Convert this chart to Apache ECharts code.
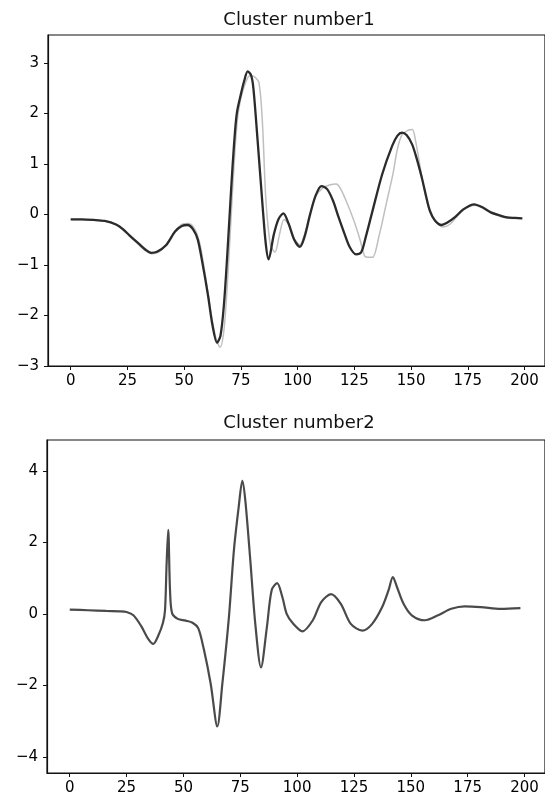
<!DOCTYPE html>
<html>
<head>
<meta charset="utf-8">
<script src="https://cdn.jsdelivr.net/npm/echarts@6/dist/echarts.min.js"></script>
<style>html,body{margin:0;padding:0;background:#fff}#c{width:545px;height:799px}</style>
</head>
<body>
<div id="c"></div>
<script>
// ---------- data ----------
const title1 = "Cluster number1";
const title2 = "Cluster number2";
const xTicks = [0, 25, 50, 75, 100, 125, 150, 175, 200];
const yTicks1 = [-3, -2, -1, 0, 1, 2, 3];
const yTicks2 = [-4, -2, 0, 2, 4];

// Cluster 1: dominant (dark) member
const c1Main = [[0,-0.1],[5,-0.1],[10,-0.11],[15,-0.13],[20,-0.2],[23,-0.29],[26,-0.42],[30,-0.58],[33,-0.7],[35.5,-0.76],[38,-0.74],[42,-0.61],[46,-0.34],[49,-0.23],[51.5,-0.21],[54,-0.3],[56,-0.5],[58,-0.95],[60.5,-1.6],[62.5,-2.2],[64.5,-2.54],[66,-2.4],[67.5,-1.8],[69,-0.8],[70.7,0.5],[72,1.4],[73.2,2.0],[75,2.38],[76.5,2.65],[78,2.83],[79.5,2.75],[80.5,2.5],[82.3,1.5],[84.5,0.2],[86,-0.6],[87.2,-0.89],[89.5,-0.4],[91.5,-0.1],[93.7,0.02],[96,-0.18],[98.5,-0.5],[101,-0.64],[103,-0.45],[105.5,0],[108,0.38],[110.5,0.56],[113,0.5],[115.6,0.27],[118,-0.05],[120.7,-0.39],[123,-0.65],[125.7,-0.79],[128,-0.75],[130,-0.45],[133,0.07],[137.3,0.8],[141.7,1.36],[144,1.56],[146,1.62],[148,1.57],[150.4,1.39],[152.5,1.1],[154.7,0.73],[156.5,0.38],[158.3,0.07],[160.5,-0.12],[163.4,-0.21],[166,-0.16],[169.2,-0.06],[173,0.1],[177.8,0.2],[181,0.15],[185.1,0.04],[189,-0.02],[192.3,-0.06],[196,-0.07],[199,-0.08]];
// Cluster 1: lighter member
const c1Other = [[0,-0.1],[15,-0.13],[20,-0.2],[26,-0.43],[30,-0.6],[33,-0.72],[36,-0.78],[39,-0.74],[42,-0.6],[46,-0.33],[49,-0.2],[52,-0.18],[55,-0.32],[57,-0.6],[59.5,-1.25],[62,-2.0],[64,-2.45],[65.8,-2.63],[67.5,-2.3],[69,-1.4],[70.5,-0.2],[72,1.0],[73.5,1.9],[75,2.3],[77,2.6],[79,2.75],[81,2.72],[83,2.6],[84.5,1.8],[86,0.3],[88,-0.6],[90,-0.75],[92,-0.4],[94,-0.1],[96,-0.2],[98.5,-0.48],[101,-0.6],[103,-0.4],[105.5,0.02],[108,0.36],[111,0.52],[114,0.58],[117,0.6],[119,0.5],[122,0.2],[125,-0.15],[127.5,-0.5],[129.5,-0.82],[131,-0.85],[133,-0.85],[136,-0.4],[139,0.2],[142,0.8],[144,1.3],[146,1.58],[148.5,1.66],[150.5,1.68],[152,1.45],[154.5,0.8],[156.5,0.35],[158.5,0.02],[161,-0.15],[164,-0.25],[167,-0.2],[170,-0.05],[174,0.12],[178,0.18],[182,0.12],[186,0.02],[190,-0.05],[195,-0.08],[199,-0.08]];

// Cluster 2
const c2Main = [[0,0.12],[8,0.1],[16,0.08],[22,0.07],[25,0.05],[28,-0.04],[31.5,-0.35],[34.5,-0.7],[36.7,-0.84],[39,-0.6],[41,-0.25],[41.9,0.1],[42.6,1.4],[43.3,2.35],[44.1,0.66],[45,0.02],[47.5,-0.14],[51,-0.19],[54,-0.25],[56.5,-0.4],[59,-1.0],[62,-1.96],[64.9,-3.15],[67.1,-1.96],[70,-0.09],[72.2,1.78],[74.3,2.99],[75.9,3.72],[77.2,3.18],[79.4,1.5],[81.6,-0.28],[84.1,-1.5],[86.7,-0.37],[88.8,0.66],[91.2,0.86],[93.5,0.47],[95.4,0],[98.3,-0.28],[102.3,-0.49],[106.9,-0.18],[110.6,0.33],[114.9,0.55],[119.2,0.28],[123.6,-0.28],[128.7,-0.47],[133,-0.28],[137.4,0.19],[140.2,0.66],[142.1,1.03],[143.9,0.75],[146.8,0.28],[150.4,-0.04],[156.2,-0.18],[162,-0.04],[167.8,0.14],[173.6,0.21],[180.8,0.19],[189.5,0.14],[198.2,0.16]];

// ---------- chart ----------
const FONT = "DejaVu Sans";
const fmt = v => String(v).replace('-', '\u2212');
function xAxis(gi) {
  return {
    type: 'value', gridIndex: gi, min: -10, max: 209,
    splitLine: {show: false},
    axisLine: {show: true, onZero: false, lineStyle: {color: '#111', width: 1.2}},
    axisTick: {show: true, length: 4, lineStyle: {color: '#111'}, customValues: xTicks},
    axisLabel: {fontFamily: FONT, fontSize: 15, color: '#000', margin: 8, customValues: xTicks, formatter: fmt}
  };
}
function yAxis(gi, mn, mx, ticks) {
  return {
    type: 'value', gridIndex: gi, min: mn, max: mx,
    splitLine: {show: false},
    axisLine: {show: true, onZero: false, lineStyle: {color: '#111', width: 1.2}},
    axisTick: {show: true, length: 4, lineStyle: {color: '#111'}, customValues: ticks},
    axisLabel: {fontFamily: FONT, fontSize: 15, color: '#000', margin: 9, customValues: ticks, formatter: fmt}
  };
}
const chart = echarts.init(document.getElementById('c'), null, {renderer: 'canvas'});
chart.setOption({
  animation: false,
  backgroundColor: '#fff',
  grid: [
    {left: 48, top: 35, width: 503, height: 331, show: true, borderColor: '#111', borderWidth: 1.2},
    {left: 47, top: 440, width: 504, height: 333, show: true, borderColor: '#111', borderWidth: 1.2}
  ],
  xAxis: [xAxis(0), xAxis(1)],
  yAxis: [yAxis(0, -3, 3.55, yTicks1), yAxis(1, -4.45, 4.86, yTicks2)],
  graphic: [
    {type: 'text', x: 299, y: 20, style: {text: title1, align: 'center', verticalAlign: 'middle', font: '18px "DejaVu Sans"', fill: '#111'}},
    {type: 'text', x: 299, y: 423, style: {text: title2, align: 'center', verticalAlign: 'middle', font: '18px "DejaVu Sans"', fill: '#111'}}
  ],
  series: [
    {type: 'line', xAxisIndex: 0, yAxisIndex: 0, data: c1Other, showSymbol: false, smooth: 0.3,
     lineStyle: {color: '#b8b8b8', width: 1.5, opacity: 0.9}},
    {type: 'line', xAxisIndex: 0, yAxisIndex: 0, data: c1Main, showSymbol: false, smooth: 0.3,
     lineStyle: {color: '#2b2b2b', width: 2.3}},
    {type: 'line', xAxisIndex: 1, yAxisIndex: 1, data: c2Main, showSymbol: false, smooth: 0.3,
     lineStyle: {color: '#4a4a4a', width: 2.2}}
  ]
});
</script>
</body>
</html>
